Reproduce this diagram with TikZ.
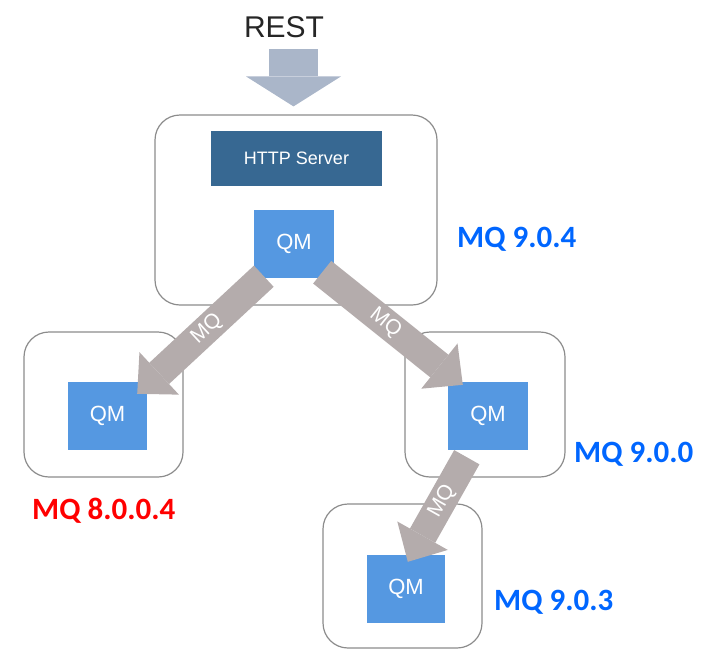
\documentclass[tikz,border=0pt]{standalone}
\usepackage{fontspec}
\setmainfont{Liberation Sans}
\newfontfamily\calib{Carlito}
\usetikzlibrary{arrows.meta,calc}
\definecolor{boxline}{RGB}{140,140,140}
\definecolor{qmblue}{RGB}{85,152,225}
\definecolor{httpblue}{RGB}{55,104,146}
\definecolor{restarrow}{RGB}{170,182,201}
\definecolor{mqarrow}{RGB}{180,172,172}
\definecolor{lblblue}{RGB}{0,102,255}
\definecolor{lblred}{RGB}{255,0,0}
\tikzset{
  container/.style={draw=boxline, line width=1.2pt, rounded corners=25pt, fill=none, inner sep=0pt},
  qmbox/.style={fill=qmblue, text=white, inner sep=0pt, minimum width=80pt, minimum height=68pt, font=\fontsize{22}{22}\selectfont},
  httpbox/.style={fill=httpblue, text=white, inner sep=0pt, minimum width=171pt, minimum height=55pt, font=\fontsize{18}{18}\selectfont},
  mqflow/.style={draw=mqarrow, line width=29pt, -{Triangle[width=58pt,length=30pt,line width=0pt]}},
  flowlabel/.style={text=white, font=\fontsize{21}{21}\selectfont, inner sep=0pt},
  version/.style={font=\calib\bfseries\fontsize{31}{31}\selectfont, inner sep=0pt, anchor=base west},
}
\begin{document}
\begin{tikzpicture}[x=1pt,y=-1pt]
\useasboundingbox (0,0) rectangle (708,649);
% containers
\node[container, minimum width=282pt, minimum height=190pt] (topbox) at (296,210) {};
\node[container, minimum width=159pt, minimum height=145pt] (leftbox) at (103.5,404.5) {};
\node[container, minimum width=160pt, minimum height=145pt] (rightbox) at (485,404.5) {};
\node[container, minimum width=159pt, minimum height=144pt] (botbox) at (402.5,576) {};
% inner boxes
\node[httpbox] (http) at (296.5,158.5) {HTTP Server};
\node[qmbox] (qmtop) at (294,244) {QM};
\node[qmbox, minimum width=79pt] (qmleft) at (107.5,416) {QM};
\node[qmbox] (qmright) at (488,416) {QM};
\node[qmbox, minimum width=78pt] (qmbot) at (406,589) {QM};
% REST
\node[anchor=base, inner sep=0pt, font=\fontsize{30}{30}\selectfont, text=black!85] (rest) at (284,37) {REST};
\coordinate (restin) at (293.5,49);
\coordinate (restout) at ($(topbox.north)+(-2.5,-8)$);
\draw[draw=restarrow, line width=49pt, -{Triangle[width=95pt,length=30pt,line width=0pt]}] (restin) -- (restout);
% MQ flows
\coordinate (a1s) at ($(qmtop.south west)+(10,-2)$);
\coordinate (a1e) at ($(qmleft.north east)+(-10,12)$);
\coordinate (a2s) at ($(qmtop.south east)+(-12,-6)$);
\coordinate (a2e) at ($(qmright.north west)+(15,3)$);
\coordinate (a3s) at ($(qmright.south west)+(19,7)$);
\coordinate (a3e) at ($(qmbot.north west)+(41,7)$);
\draw[mqflow] (a1s) -- node[flowlabel, pos=0.45, sloped] (l1) {MQ} (a1e);
\draw[mqflow] (a2s) -- node[flowlabel, pos=0.45, sloped] (l2) {MQ} (a2e);
\draw[mqflow] (a3s) -- node[flowlabel, pos=0.42, sloped] (l3) {MQ} (a3e);
% version labels
\node[version, text=lblblue] (v904) at (457,247) {MQ 9.0.4};
\node[version, text=lblred] (v8004) at (32,519) {MQ 8.0.0.4};
\node[version, text=lblblue] (v900) at (574,462) {MQ 9.0.0};
\node[version, text=lblblue] (v903) at (494,610) {MQ 9.0.3};
\end{tikzpicture}
\end{document}
